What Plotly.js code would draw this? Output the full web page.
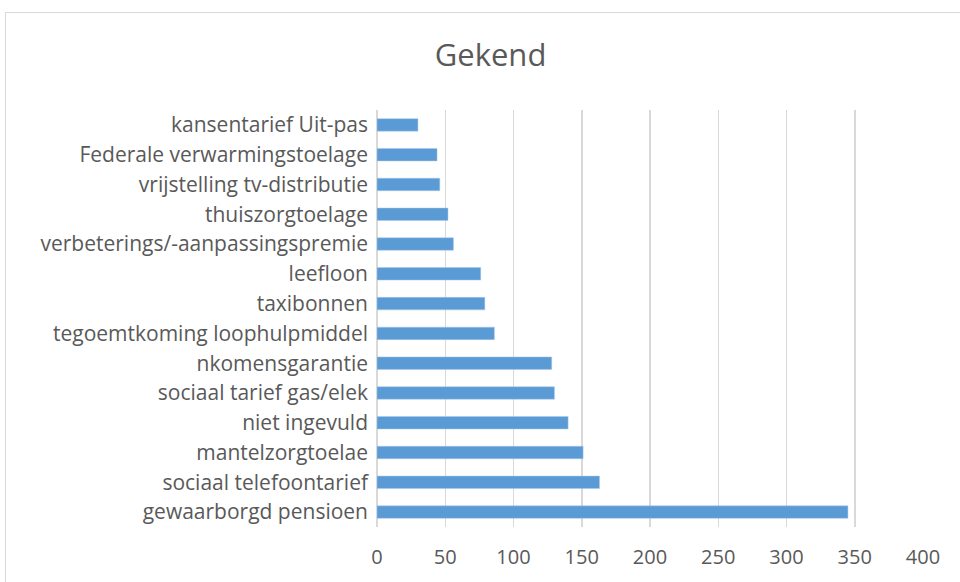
<!DOCTYPE html>
<html>
<head>
<meta charset="utf-8">
<script src="https://cdn.plot.ly/plotly-3.0.1.min.js"></script>
<style>
  html, body { margin: 0; padding: 0; background: #fff; }
  #frame { position: absolute; left: 5px; top: 12px; width: 1000px; height: 1000px; border: 1px solid #d9d9d9; box-sizing: border-box; }
  #chart { position: absolute; left: 0; top: 0; width: 960px; height: 582px; }
</style>
</head>
<body>
<div id="frame"></div>
<div id="chart"></div>
<script>
const categories = [
  "gewaarborgd pensioen",
  "sociaal telefoontarief",
  "mantelzorgtoelae",
  "niet ingevuld",
  "sociaal tarief gas/elek",
  "nkomensgarantie",
  "tegoemtkoming loophulpmiddel",
  "taxibonnen",
  "leefloon",
  "verbeterings/-aanpassingspremie",
  "thuiszorgtoelage",
  "vrijstelling tv-distributie",
  "Federale verwarmingstoelage",
  "kansentarief Uit-pas"
];
const values = [345, 163, 151, 140, 130, 128, 86, 79, 76, 56, 52, 46, 44, 30];
const xTicks = [0, 50, 100, 150, 200, 250, 300, 350, 400];

const fontFam = "'Open Sans', 'Noto Sans', sans-serif";
const trace = {
  type: 'bar',
  orientation: 'h',
  y: categories,
  x: values,
  marker: { color: '#5b9bd5', line: { color: '#a9c8ea', width: 0.5 } },
  hoverinfo: 'x+y'
};
const layout = {
  width: 960, height: 582,
  margin: { l: 377, r: 37, t: 110, b: 55 },
  paper_bgcolor: 'rgba(0,0,0,0)',
  plot_bgcolor: 'rgba(0,0,0,0)',
  showlegend: false,
  bargap: 0.58,
  title: { text: 'Gekend', x: 0.511, xanchor: 'center', y: 0.905, yanchor: 'middle',
           font: { family: fontFam, size: 31, color: '#595959' } },
  xaxis: {
    range: [0, 400], tickvals: xTicks, ticktext: xTicks.map(String),
    showgrid: true, gridcolor: '#d9d9d9', gridwidth: 1.5,
    zeroline: true, zerolinecolor: '#d9d9d9', zerolinewidth: 1.5,
    showline: false, ticks: '',
    ticklabelstandoff: 16,
    tickfont: { family: fontFam, size: 20, color: '#595959' },
    fixedrange: true
  },
  yaxis: {
    type: 'category', categoryorder: 'array', categoryarray: categories,
    showgrid: false, zeroline: false, showline: false, ticks: '',
    ticklabelstandoff: 8,
    tickfont: { family: fontFam, size: 21, color: '#595959' },
    automargin: false,
    fixedrange: true
  }
};
Plotly.newPlot('chart', [trace], layout, { displayModeBar: false, staticPlot: true });
</script>
</body>
</html>
